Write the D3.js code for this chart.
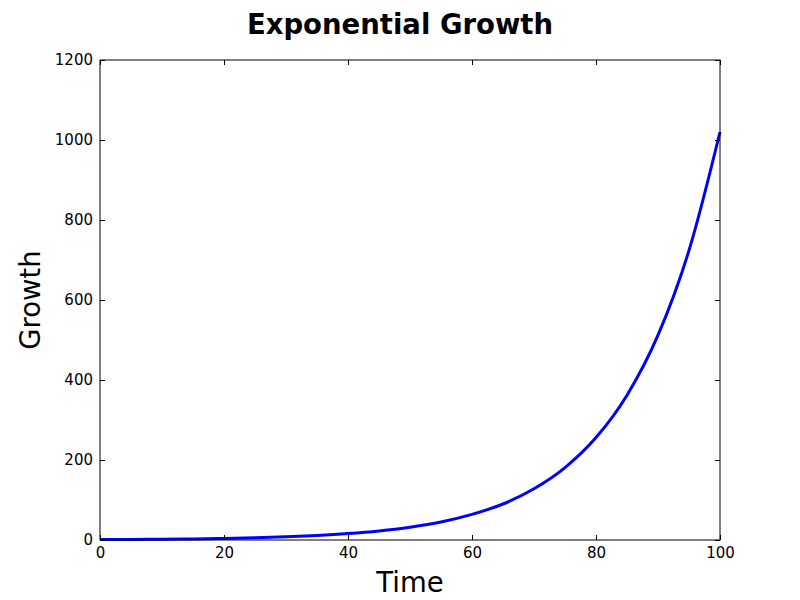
<!DOCTYPE html>
<html>
<head>
<meta charset="utf-8">
<script src="https://cdn.jsdelivr.net/npm/d3@7"></script>
<style>
  body { margin: 0; background: #fff; }
  text { font-family: "DejaVu Sans", sans-serif; }
</style>
</head>
<body>
<div id="chart"></div>
<script>
// values
var times = [0, 5, 10, 15, 20, 25, 30, 35, 40, 45, 50, 55, 60, 65, 70, 75, 80, 85, 90, 95, 100];
var growth = [1, 1.4, 2, 2.8, 4, 5.7, 8, 11.3, 16, 22.6, 32, 45, 64, 90, 128, 181, 256, 362, 512, 724, 1020];
var xTicks = [0, 20, 40, 60, 80, 100];
var yTicks = [0, 200, 400, 600, 800, 1000, 1200];

var width = 800, height = 600;
var mLeft = 100, mRight = 720, mTop = 60, mBottom = 540;

var svg = d3.select('#chart')
    .append('svg')
    .attr('width', width)
    .attr('height', height);

var x = d3.scaleLinear().domain([0, 100]).range([mLeft, mRight]);
var y = d3.scaleLinear().domain([0, 1200]).range([mBottom, mTop]);

var data = times.map(function (t, i) { return [t, growth[i]]; });

// line
svg.append('path')
    .datum(data)
    .attr('fill', 'none')
    .attr('stroke', '#0000ff')
    .attr('stroke-width', 3)
    .attr('d', d3.line()
        .x(d => x(d[0]))
        .y(d => y(d[1]))
        .curve(d3.curveMonotoneX));

// axes, ticks pointing inward on all four sides
svg.append('g')
    .attr('transform', 'translate(0,' + mBottom + ')')
    .call(d3.axisBottom(x).tickValues(xTicks).tickSizeInner(-5).tickSizeOuter(0).tickPadding(7).tickFormat(d3.format('d')));
svg.append('g')
    .attr('transform', 'translate(0,' + mTop + ')')
    .call(d3.axisTop(x).tickValues(xTicks).tickSizeInner(-5).tickSizeOuter(0).tickFormat(''));
svg.append('g')
    .attr('transform', 'translate(' + mLeft + ',0)')
    .call(d3.axisLeft(y).tickValues(yTicks).tickSizeInner(-5).tickSizeOuter(0).tickPadding(7).tickFormat(d3.format('d')));
svg.append('g')
    .attr('transform', 'translate(' + mRight + ',0)')
    .call(d3.axisRight(y).tickValues(yTicks).tickSizeInner(-5).tickSizeOuter(0).tickFormat(''));

svg.selectAll('.domain').remove();
svg.selectAll('.tick text')
    .attr('font-size', 15)
    .attr('fill', '#000')
    .style('font-family', '"DejaVu Sans", sans-serif');
svg.selectAll('.tick line').attr('stroke', '#000');

// frame
svg.append('rect')
    .attr('x', mLeft).attr('y', mTop)
    .attr('width', mRight - mLeft).attr('height', mBottom - mTop)
    .attr('fill', 'none')
    .attr('stroke', '#000')
    .attr('stroke-width', 1);

// title and labels
svg.append('text')
    .attr('x', width / 2).attr('y', 34)
    .attr('text-anchor', 'middle')
    .attr('font-size', 27.5)
    .attr('font-weight', 'bold')
    .text('Exponential Growth');

svg.append('text')
    .attr('x', (mLeft + mRight) / 2).attr('y', 592)
    .attr('text-anchor', 'middle')
    .attr('font-size', 27.5)
    .text('Time');

svg.append('text')
    .attr('transform', 'translate(40,' + (mTop + mBottom) / 2 + ') rotate(-90)')
    .attr('text-anchor', 'middle')
    .attr('font-size', 27.5)
    .text('Growth');
</script>
</body>
</html>
